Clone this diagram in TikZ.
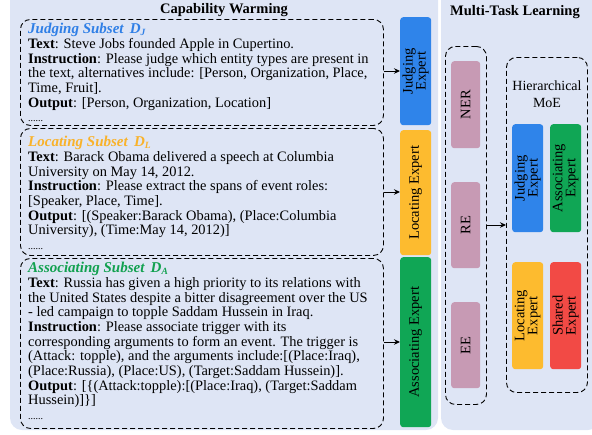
\documentclass[tikz,border=0pt]{standalone}
\usepackage{fontspec}
\setmainfont{Liberation Serif}
\usetikzlibrary{arrows.meta}
\definecolor{bgc}{HTML}{DEE5F5}
\definecolor{cJ}{HTML}{2F84EA}
\definecolor{cL}{HTML}{FDBB2F}
\definecolor{cA}{HTML}{10A655}
\definecolor{cS}{HTML}{F24A45}
\definecolor{cP}{HTML}{C79AB4}
\definecolor{tJ}{HTML}{2F7FE6}
\definecolor{tL}{HTML}{F9B22A}
\definecolor{tA}{HTML}{12A150}
\newcommand{\subsetttl}[3]{{\fontsize{15}{14.7}\selectfont\bfseries\itshape\color{#1}#2\,~D\raisebox{-2pt}{\fontsize{9.5}{9.5}\selectfont #3}}}
\newcommand{\smalldots}{{\fontsize{10}{14.7}\selectfont ......}}
\begin{document}
\begin{tikzpicture}[x=1pt,y=-1pt,
 panel/.style={fill=bgc, draw=none, rounded corners=12pt},
 dbox/.style={draw, dash pattern=on 5pt off 3pt, line width=0.9pt, rounded corners=10pt, inner sep=0pt, anchor=north west},
 bar/.style={rounded corners=3pt, draw=none, inner sep=0pt, anchor=north west},
 arr/.style={-{Stealth[length=6pt,width=5.5pt]}, line width=0.9pt},
 vlbl/.style={rotate=90, font=\fontsize{14.5}{15}\selectfont, align=center, inner sep=0pt},
 body/.style={anchor=north west, inner sep=0pt, align=left, font=\fontsize{14.4}{14.7}\selectfont},
 ttl/.style={font=\fontsize{14.5}{16}\selectfont\bfseries, inner sep=0pt}
]
\useasboundingbox (0,0) rectangle (592,434);
% panels
\path[panel] (10,-12) rectangle (438,430);
\path[panel] (441,-12) rectangle (600,430);
\node[ttl] (t1) at (224,10) {Capability Warming};
\node[ttl] (t2) at (515,12) {Multi-Task Learning};

% left dashed boxes
\node[dbox, minimum width=363pt, minimum height=106pt] (bJ) at (20,19) {};
\node[dbox, minimum width=363pt, minimum height=127pt] (bL) at (20,128) {};
\node[dbox, minimum width=363pt, minimum height=170pt] (bA) at (20,258) {};

\node[body] (xJ) at (28,23) {\subsetttl{tJ}{Judging Subset}{J}\\
\textbf{Text}: Steve Jobs founded Apple in Cupertino.\\
\textbf{Instruction}: Please judge which entity types are present in\\
the text, alternatives include: [Person, Organization, Place,\\
Time, Fruit].\\
\textbf{Output}: [Person, Organization, Location]\\
\smalldots};

\node[body] (xL) at (28,136) {\subsetttl{tL}{Locating Subset}{L}\\
\textbf{Text}: Barack Obama delivered a speech at Columbia\\
University on May 14, 2012.\\
\textbf{Instruction}: Please extract the spans of event roles:\\
{[}Speaker, Place, Time].\\
\textbf{Output}: [(Speaker:Barack Obama), (Place:Columbia\\
University), (Time:May 14, 2012)]\\
\smalldots};

\node[body] (xA) at (28,262) {\subsetttl{tA}{Associating Subset}{A}\\
\textbf{Text}: Russia has given a high priority to its relations with\\
the United States despite a bitter disagreement over the US\\
- led campaign to topple Saddam Hussein in Iraq.\\
\textbf{Instruction}: Please associate trigger with its\\
corresponding arguments to form an event. The trigger is\\
(Attack: topple), and the arguments include:[(Place:Iraq),\\
(Place:Russia), (Place:US), (Target:Saddam Hussein)].\\
\textbf{Output}: [\{(Attack:topple):[(Place:Iraq), (Target:Saddam\\
Hussein)]\}]\\
\smalldots};

% expert bars
\node[bar, fill=cJ, minimum width=31pt, minimum height=108pt] (eJ) at (400,17) {};
\node[bar, fill=cL, minimum width=31pt, minimum height=125pt] (eL) at (400,130) {};
\node[bar, fill=cA, minimum width=31pt, minimum height=170pt] (eA) at (400,257) {};
\node[vlbl] (lJ) at (eJ.center) {Judging\\[-2pt]Expert};
\node[vlbl] (lL) at (eL.center) {Locating Expert};
\node[vlbl] (lA) at (eA.center) {Associating Expert};

\draw[arr] (bJ.east |- 0,71) -- (eJ.west |- 0,71);
\draw[arr] (bL.east |- 0,192) -- (eL.west |- 0,192);
\draw[arr] (bA.east |- 0,342) -- (eA.west |- 0,342);

% multi-task
\node[dbox, minimum width=41pt, minimum height=358pt] (tk) at (445,46) {};
\node[bar, fill=cP, minimum width=29pt, minimum height=87pt] (pN) at (451,61) {};
\node[bar, fill=cP, minimum width=29pt, minimum height=86pt] (pR) at (451,182) {};
\node[bar, fill=cP, minimum width=29pt, minimum height=86pt] (pE) at (451,302) {};
\node[vlbl] (lN) at (pN.center) {NER};
\node[vlbl] (lR) at (pR.center) {RE};
\node[vlbl] (lE) at (pE.center) {EE};

\node[dbox, minimum width=81pt, minimum height=335pt] (moe) at (506,57) {};
\node[font=\fontsize{14}{17}\selectfont, align=center, inner sep=0pt] (hm) at (547,94) {Hierarchical\\MoE};
\draw[arr] (tk.east |- 0,225) -- (moe.west |- 0,225);

\node[bar, fill=cJ, minimum width=31pt, minimum height=108pt] (mJ) at (512,124) {};
\node[bar, fill=cA, minimum width=31pt, minimum height=108pt] (mA) at (550,124) {};
\node[bar, fill=cL, minimum width=31pt, minimum height=107pt] (mL) at (512,262) {};
\node[bar, fill=cS, minimum width=31pt, minimum height=107pt] (mS) at (550,262) {};
\node[vlbl] (lmJ) at (mJ.center) {Judging\\[-2pt]Expert};
\node[vlbl] (lmA) at (mA.center) {Associating\\[-2pt]Expert};
\node[vlbl] (lmL) at (mL.center) {Locating\\[-2pt]Expert};
\node[vlbl] (lmS) at (mS.center) {Shared\\[-2pt]Expert};
\end{tikzpicture}
\end{document}
